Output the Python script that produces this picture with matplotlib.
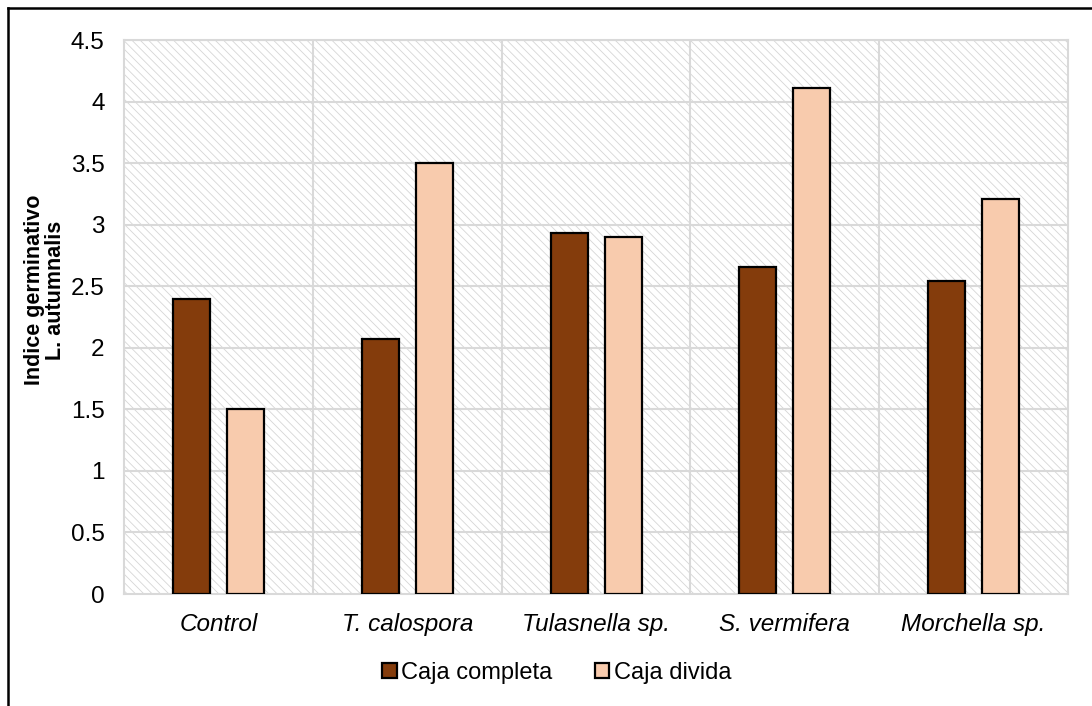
import matplotlib.pyplot as plt
import numpy as np
from matplotlib.patches import Rectangle
from matplotlib.lines import Line2D

plt.rcParams['font.family'] = ['Liberation Sans', 'DejaVu Sans']
plt.rcParams['hatch.linewidth'] = 0.6

tratamientos = ['Control', 'T. calospora', 'Tulasnella sp.', 'S. vermifera', 'Morchella sp.']
caja_completa = [2.40, 2.07, 2.93, 2.66, 2.54]
caja_divida = [1.50, 3.50, 2.90, 4.11, 3.21]
yticks = [0, 0.5, 1, 1.5, 2, 2.5, 3, 3.5, 4, 4.5]

fig = plt.figure(figsize=(10.92, 7.06), dpi=100)
ax = fig.add_axes([0.1136, 0.1586, 0.978 - 0.1136, 0.9433 - 0.1586])

x = np.arange(len(tratamientos))
ancho = 0.196
sep = 0.143

# fondo rayado del area de trazado
ax.add_patch(Rectangle((0, 0), 1, 1, transform=ax.transAxes, facecolor='white',
                       edgecolor='#d6d6d6', hatch='\\\\\\\\', linewidth=0, zorder=0))

ax.bar(x - sep, caja_completa, ancho, color='#843C0C', edgecolor='black',
       linewidth=1.6, label='Caja completa', zorder=3)
ax.bar(x + sep, caja_divida, ancho, color='#F8CBAD', edgecolor='black',
       linewidth=1.6, label='Caja divida', zorder=3)

ax.set_xlim(-0.5, len(tratamientos) - 0.5)
ax.set_ylim(0, 4.5)
ax.set_yticks(yticks)
ax.set_yticklabels([f'{v:g}' for v in yticks], fontsize=17.5)
ax.set_xticks(x)
ax.set_xticklabels(tratamientos, fontsize=17.5, style='italic')
ax.tick_params(axis='both', length=0, colors='black')
ax.tick_params(axis='y', pad=14)
ax.tick_params(axis='x', pad=14)

# lineas de division
for v in yticks[1:]:
    ax.axhline(v, color='#d9d9d9', linewidth=1.5, zorder=1)
for b in np.arange(0.5, len(tratamientos) - 0.5, 1):
    ax.axvline(b, color='#d9d9d9', linewidth=1.5, zorder=1)

for s in ax.spines.values():
    s.set_color('#d9d9d9')
    s.set_linewidth(1.5)

fig.text(45 / 1092, 1 - 290 / 706, 'Indice germinativo\nL. autumnalis', rotation=90,
         ha='center', va='center', fontsize=15.5, fontweight='bold', linespacing=1.0)

# leyenda centrada en el grafico completo
fig.legend(*ax.get_legend_handles_labels(), loc='center',
           bbox_to_anchor=(557 / 1092, 1 - 673 / 706), ncol=2, frameon=False,
           fontsize=17, handlelength=0.6, handleheight=0.6, handletextpad=0.2,
           columnspacing=1.8)

# marco exterior
fig.add_artist(Line2D([7.5 / 1092, 7.5 / 1092], [0, 1 - 8 / 706], color='black',
                      linewidth=1.8, transform=fig.transFigure))
fig.add_artist(Line2D([7.5 / 1092, 1], [1 - 8 / 706, 1 - 8 / 706], color='black',
                      linewidth=1.8, transform=fig.transFigure))

fig.savefig('out.png', dpi=100)
